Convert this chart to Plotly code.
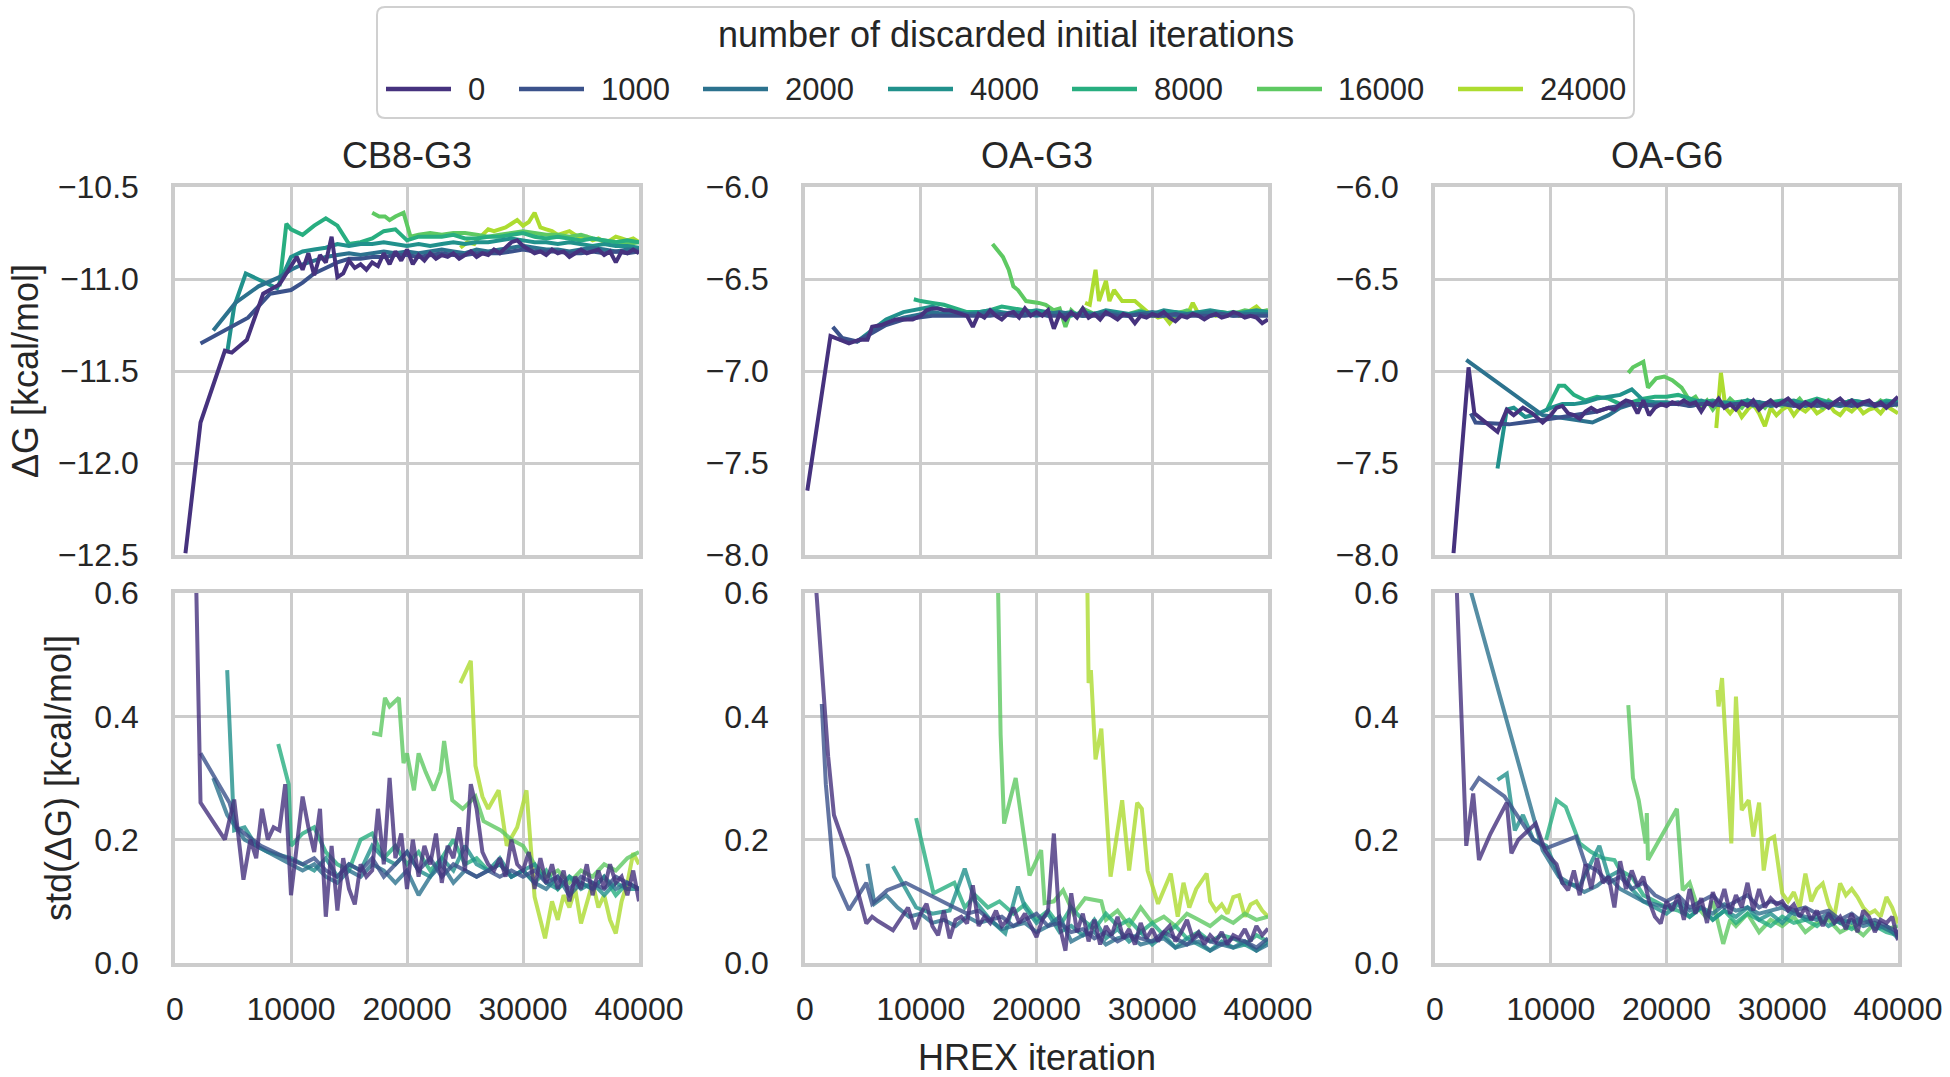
import plotly.graph_objects as go

# ---------------- data ----------------
DISCARDS = [0, 1000, 2000, 4000, 8000, 16000, 24000]
COLORS = ['#46327e', '#3b528b', '#2c728e', '#21918c', '#28ae80', '#5ec962', '#addc30']
SYSTEMS = ['CB8-G3', 'OA-G3', 'OA-G6']
X_TICKS = [0, 10000, 20000, 30000, 40000]
DG_TICKS_CB8 = [-12.5, -12.0, -11.5, -11.0, -10.5]
DG_TICKS_OA = [-8.0, -7.5, -7.0, -6.5, -6.0]
STD_TICKS = [0.0, 0.2, 0.4, 0.6]

# iteration checkpoints (tails of each series take the last N of these)
G500 = [500, 1000, 1500, 2000, 2500, 3000, 3500, 4000, 4500, 5000,
        5500, 6000, 6500, 7000, 7500, 8000, 8500, 9000, 9500, 10000,
        10500, 11000, 11500, 12000, 12500, 13000, 13500, 14000, 14500, 15000,
        15500, 16000, 16500, 17000, 17500, 18000, 18500, 19000, 19500, 20000,
        20500, 21000, 21500, 22000, 22500, 23000, 23500, 24000, 24500, 25000,
        25500, 26000, 26500, 27000, 27500, 28000, 28500, 29000, 29500, 30000,
        30500, 31000, 31500, 32000, 32500, 33000, 33500, 34000, 34500, 35000,
        35500, 36000, 36500, 37000, 37500, 38000, 38500, 39000, 39500, 40000]
G1000 = [1000, 2000, 3000, 4000, 5000, 6000, 7000, 8000, 9000, 10000,
         11000, 12000, 13000, 14000, 15000, 16000, 17000, 18000, 19000, 20000,
         21000, 22000, 23000, 24000, 25000, 26000, 27000, 28000, 29000, 30000,
         31000, 32000, 33000, 34000, 35000, 36000, 37000, 38000, 39000, 40000]

# each series: (head iterations, head values, tail checkpoint step, tail values)
CB8_DG = {
    0: ([900, 2200, 4300, 4900, 6200, 7600, 9000],
        [-12.49, -11.78, -11.39, -11.40, -11.33, -11.08, -11.03], 500,
        [-10.93, -10.88, -10.95, -10.86, -10.98, -10.87, -10.91, -10.77, -10.99, -10.97,
         -10.90, -10.94, -10.92, -10.95, -10.91, -10.93, -10.86, -10.92, -10.85, -10.90,
         -10.84, -10.92, -10.87, -10.90, -10.86, -10.89, -10.87, -10.88, -10.86, -10.89,
         -10.87, -10.85, -10.88, -10.86, -10.87, -10.84, -10.86, -10.83, -10.80, -10.79,
         -10.82, -10.84, -10.86, -10.85, -10.87, -10.84, -10.86, -10.85, -10.88, -10.86,
         -10.84, -10.86, -10.85, -10.84, -10.87, -10.85, -10.91, -10.85, -10.86, -10.84,
         -10.86]),
    1000: ([2200, 6300, 8200], [-11.35, -11.21, -11.08], 1000,
           [-11.06, -11.02, -10.97, -10.94, -10.91, -10.89, -10.89, -10.88, -10.88, -10.87,
            -10.87, -10.88, -10.87, -10.86, -10.87, -10.87, -10.86, -10.86, -10.86, -10.85,
            -10.84, -10.85, -10.85, -10.85, -10.86, -10.86, -10.85, -10.86, -10.85, -10.86,
            -10.85]),
    2000: ([3300, 5200, 7200, 9000], [-11.28, -11.13, -11.04, -10.99], 1000,
           [-10.95, -10.92, -10.90, -10.88, -10.87, -10.86, -10.87, -10.86, -10.85, -10.86,
            -10.85, -10.86, -10.85, -10.84, -10.85, -10.86, -10.84, -10.85, -10.84, -10.83,
            -10.82, -10.83, -10.84, -10.84, -10.85, -10.84, -10.83, -10.84, -10.85, -10.84,
            -10.84]),
    4000: ([4500, 5100, 6100, 7400, 8800], [-11.40, -11.15, -10.97, -11.01, -11.05], 1000,
           [-10.88, -10.85, -10.84, -10.83, -10.81, -10.82, -10.81, -10.81, -10.80, -10.81,
            -10.82, -10.81, -10.82, -10.81, -10.80, -10.81, -10.80, -10.80, -10.79, -10.78,
            -10.79, -10.80, -10.80, -10.81, -10.80, -10.81, -10.82, -10.81, -10.82, -10.82,
            -10.83]),
    8000: ([9000, 9600], [-11.04, -10.70], 1000,
           [-10.73, -10.76, -10.71, -10.67, -10.71, -10.81, -10.80, -10.78, -10.74, -10.73,
            -10.79, -10.77, -10.77, -10.77, -10.76, -10.78, -10.78, -10.77, -10.77, -10.76,
            -10.75, -10.77, -10.78, -10.77, -10.78, -10.79, -10.78, -10.79, -10.80, -10.79,
            -10.80]),
    16000: ([17000, 17600, 18100, 18500, 19000, 19700, 20300, 20800],
            [-10.64, -10.66, -10.66, -10.68, -10.66, -10.64, -10.77, -10.76], 1000,
            [-10.76, -10.75, -10.76, -10.75, -10.75, -10.76, -10.77, -10.76, -10.75, -10.74,
             -10.75, -10.76, -10.76, -10.77, -10.76, -10.78, -10.79, -10.80, -10.81, -10.80]),
    24000: ([24600, 25200, 25800], [-10.83, -10.80, -10.81], 500,
            [-10.79, -10.76, -10.73, -10.74, -10.73, -10.72, -10.70, -10.68, -10.71, -10.69,
             -10.64, -10.72, -10.73, -10.74, -10.76, -10.75, -10.74, -10.76, -10.78, -10.77,
             -10.79, -10.78, -10.80, -10.79, -10.77, -10.78, -10.79, -10.78, -10.80]),
}

OAG3_DG = {
    0: ([200, 2200, 3000, 3800, 4700, 5400, 5800, 6600, 7800, 9300],
        [-7.65, -6.81, -6.83, -6.85, -6.83, -6.83, -6.76, -6.75, -6.72, -6.72], 500,
        [-6.70, -6.67, -6.66, -6.66, -6.67, -6.67, -6.68, -6.69, -6.70, -6.76,
         -6.69, -6.71, -6.67, -6.70, -6.72, -6.69, -6.68, -6.71, -6.66, -6.70,
         -6.68, -6.70, -6.67, -6.77, -6.69, -6.72, -6.68, -6.71, -6.66, -6.71,
         -6.69, -6.72, -6.68, -6.70, -6.72, -6.69, -6.70, -6.74, -6.70, -6.71,
         -6.69, -6.70, -6.68, -6.71, -6.73, -6.70, -6.71, -6.69, -6.70, -6.72,
         -6.70, -6.69, -6.71, -6.70, -6.68, -6.69, -6.71, -6.70, -6.71, -6.74,
         -6.72]),
    1000: ([2400, 3200, 4500, 5600, 7000, 8500], [-6.76, -6.82, -6.84, -6.80, -6.75, -6.72], 1000,
           [-6.71, -6.70, -6.70, -6.70, -6.70, -6.70, -6.70, -6.69, -6.70, -6.70,
            -6.69, -6.70, -6.70, -6.69, -6.70, -6.70, -6.69, -6.70, -6.70, -6.69,
            -6.70, -6.70, -6.69, -6.70, -6.70, -6.70, -6.69, -6.70, -6.70, -6.70,
            -6.70]),
    2000: ([3000, 4500, 5500, 7000, 8500], [-6.83, -6.84, -6.80, -6.74, -6.71], 1000,
           [-6.69, -6.68, -6.69, -6.68, -6.69, -6.69, -6.68, -6.69, -6.68, -6.69,
            -6.70, -6.69, -6.68, -6.69, -6.70, -6.69, -6.68, -6.69, -6.70, -6.69,
            -6.68, -6.69, -6.70, -6.69, -6.69, -6.68, -6.69, -6.70, -6.69, -6.69,
            -6.69]),
    4000: ([4500, 5500, 7000, 8500], [-6.84, -6.79, -6.72, -6.68], 1000,
           [-6.66, -6.65, -6.67, -6.68, -6.69, -6.68, -6.67, -6.68, -6.69, -6.68,
            -6.67, -6.68, -6.69, -6.70, -6.68, -6.69, -6.67, -6.68, -6.69, -6.68,
            -6.69, -6.67, -6.68, -6.69, -6.68, -6.67, -6.68, -6.69, -6.68, -6.67,
            -6.68]),
    8000: ([9400], [-6.61], 1000,
           [-6.62, -6.63, -6.64, -6.66, -6.68, -6.68, -6.67, -6.65, -6.66, -6.67,
            -6.68, -6.70, -6.69, -6.68, -6.70, -6.69, -6.68, -6.69, -6.70, -6.68,
            -6.69, -6.70, -6.68, -6.69, -6.68, -6.70, -6.69, -6.68, -6.69, -6.68,
            -6.69]),
    16000: ([16200, 17100, 17600, 18000, 18400, 19100, 20200, 20800, 21500, 22000, 22500, 23000, 23500],
            [-6.31, -6.38, -6.45, -6.54, -6.56, -6.62, -6.63, -6.64, -6.67, -6.66, -6.76, -6.67, -6.70], 1000,
            [-6.66, -6.69, -6.68, -6.70, -6.69, -6.67, -6.70, -6.68, -6.69, -6.67,
             -6.70, -6.69, -6.68, -6.69, -6.67, -6.68, -6.67]),
    24000: ([24200, 24600, 25100, 25400, 26000, 26300, 26700, 27400, 28500, 29600],
            [-6.63, -6.64, -6.45, -6.62, -6.51, -6.62, -6.56, -6.62, -6.62, -6.68], 500,
            [-6.69, -6.71, -6.70, -6.74, -6.70, -6.68, -6.70, -6.63, -6.69, -6.70,
             -6.68, -6.70, -6.69, -6.70, -6.68, -6.70, -6.69, -6.67, -6.65, -6.68,
             -6.67]),
}

OAG6_DG = {
    0: ([1600, 2900, 3400, 5400, 6200, 6800, 7600, 8400, 9300],
        [-7.99, -6.98, -7.23, -7.33, -7.21, -7.24, -7.20, -7.23, -7.28], 500,
        [-7.24, -7.20, -7.19, -7.23, -7.24, -7.26, -7.22, -7.20, -7.22, -7.21,
         -7.20, -7.21, -7.18, -7.16, -7.17, -7.23, -7.16, -7.24, -7.20, -7.18,
         -7.19, -7.17, -7.18, -7.16, -7.18, -7.17, -7.22, -7.17, -7.19, -7.15,
         -7.20, -7.18, -7.21, -7.17, -7.19, -7.16, -7.21, -7.18, -7.16, -7.19,
         -7.17, -7.15, -7.18, -7.20, -7.17, -7.19, -7.16, -7.18, -7.20, -7.17,
         -7.15, -7.18, -7.16, -7.19, -7.17, -7.16, -7.19, -7.17, -7.20, -7.17,
         -7.14]),
    1000: ([3100, 3500, 6400, 9300], [-7.23, -7.28, -7.29, -7.27], 1000,
           [-7.26, -7.25, -7.24, -7.23, -7.22, -7.20, -7.19, -7.18, -7.18, -7.19,
            -7.18, -7.18, -7.19, -7.18, -7.18, -7.19, -7.18, -7.18, -7.19, -7.18,
            -7.18, -7.19, -7.18, -7.19, -7.18, -7.18, -7.19, -7.18, -7.18, -7.19,
            -7.18]),
    2000: ([2700, 9300, 11500, 13600], [-6.94, -7.24, -7.26, -7.28], 1000,
           [-7.24, -7.20, -7.18, -7.19, -7.18, -7.18, -7.17, -7.19, -7.18, -7.17,
            -7.19, -7.18, -7.18, -7.17, -7.19, -7.18, -7.18, -7.19, -7.17, -7.18,
            -7.19, -7.18, -7.18, -7.19, -7.18, -7.18]),
    4000: ([5400, 6200, 6800, 7800, 9000], [-7.53, -7.21, -7.20, -7.25, -7.23], 1000,
           [-7.20, -7.18, -7.18, -7.17, -7.15, -7.14, -7.13, -7.10, -7.16, -7.17,
            -7.17, -7.18, -7.17, -7.16, -7.18, -7.17, -7.18, -7.16, -7.17, -7.18,
            -7.17, -7.16, -7.18, -7.17, -7.17, -7.18, -7.16, -7.17, -7.18, -7.17,
            -7.17]),
    8000: ([9600, 10700, 11200], [-7.22, -7.08, -7.08], 1000,
           [-7.13, -7.16, -7.14, -7.15, -7.18, -7.17, -7.15, -7.14, -7.14, -7.13,
            -7.15, -7.17, -7.16, -7.18, -7.17, -7.16, -7.18, -7.17, -7.16, -7.18,
            -7.17, -7.15, -7.17, -7.18, -7.16, -7.17, -7.18, -7.16, -7.17]),
    16000: ([16700, 17100, 18000, 18400, 19100, 19800, 20500, 21300, 22000, 22500],
            [-7.01, -6.98, -6.95, -7.09, -7.04, -7.03, -7.05, -7.09, -7.16, -7.14], 500,
            [-7.19, -7.16, -7.21, -7.17, -7.19, -7.15, -7.18, -7.20, -7.16, -7.19,
             -7.17, -7.20, -7.16, -7.18, -7.19, -7.16, -7.18, -7.15, -7.19, -7.17,
             -7.18, -7.20, -7.16, -7.18, -7.19, -7.17, -7.16, -7.19, -7.18, -7.17,
             -7.19, -7.16, -7.18, -7.17, -7.19]),
    24000: ([24300, 24700, 25100], [-7.31, -7.01, -7.20], 500,
            [-7.23, -7.19, -7.25, -7.21, -7.18, -7.23, -7.30, -7.20, -7.24, -7.21,
             -7.19, -7.24, -7.20, -7.22, -7.19, -7.23, -7.21, -7.18, -7.22, -7.24,
             -7.20, -7.22, -7.19, -7.23, -7.21, -7.20, -7.23, -7.19, -7.21, -7.23]),
}

CB8_STD = {
    0: ([1800, 2200, 4300, 5100, 5900], [0.64, 0.26, 0.20, 0.265, 0.135], 500,
        [0.20, 0.17, 0.25, 0.20, 0.22, 0.215, 0.29, 0.11,
         0.19, 0.27, 0.22, 0.18, 0.25, 0.075, 0.19, 0.085, 0.17, 0.12,
         0.095, 0.16, 0.14, 0.15, 0.25, 0.16, 0.30, 0.17, 0.21, 0.12,
         0.20, 0.14, 0.19, 0.16, 0.21, 0.13, 0.19, 0.17, 0.22, 0.15,
         0.29, 0.25, 0.18, 0.16, 0.15, 0.17, 0.14, 0.20, 0.16, 0.15,
         0.18, 0.12, 0.17, 0.13, 0.16, 0.12, 0.15, 0.10, 0.14, 0.12,
         0.16, 0.11, 0.15, 0.12, 0.16, 0.13, 0.14, 0.11, 0.15, 0.10]),
    1000: ([2200, 4700, 5300, 7400, 10000], [0.34, 0.26, 0.22, 0.19, 0.167], 1000,
           [0.16, 0.17, 0.15, 0.14, 0.16, 0.15, 0.17, 0.14, 0.16, 0.18,
            0.15, 0.17, 0.14, 0.16, 0.15, 0.14, 0.15, 0.14, 0.15, 0.14,
            0.15, 0.13, 0.14, 0.12, 0.14, 0.13, 0.12, 0.14, 0.13, 0.12]),
    2000: ([3300, 4500, 6000, 8000], [0.30, 0.24, 0.20, 0.18], 1000,
           [0.17, 0.16, 0.15, 0.16, 0.14, 0.13, 0.15, 0.14, 0.16, 0.15,
            0.13, 0.15, 0.11, 0.14, 0.16, 0.13, 0.15, 0.14, 0.15, 0.16,
            0.14, 0.15, 0.13, 0.12, 0.14, 0.11, 0.13, 0.12, 0.14, 0.12,
            0.13, 0.12]),
    4000: ([4500, 5100], [0.475, 0.215], 1000,
           [0.22, 0.19, 0.18, 0.175, 0.17, 0.16, 0.15, 0.17, 0.14, 0.16,
            0.15, 0.19, 0.17, 0.16, 0.18, 0.15, 0.14, 0.17, 0.15, 0.19,
            0.16, 0.15, 0.17, 0.14, 0.15, 0.16, 0.13, 0.12, 0.14, 0.12,
            0.13, 0.11, 0.13, 0.12, 0.12]),
    8000: ([8900, 9800], [0.355, 0.29], 1000,
           [0.19, 0.21, 0.22, 0.18, 0.16, 0.15, 0.20, 0.21, 0.17, 0.19,
            0.16, 0.18, 0.15, 0.17, 0.20, 0.16, 0.17, 0.15, 0.16, 0.14,
            0.15, 0.13, 0.15, 0.12, 0.14, 0.13, 0.12, 0.14, 0.11, 0.13,
            0.12]),
    16000: ([17000, 17700, 18100, 18500, 19300, 19700, 20000, 20600, 21000, 21600, 22300,
             22900, 23200, 23900, 24800, 25900, 26600, 28100],
            [0.373, 0.37, 0.43, 0.416, 0.43, 0.324, 0.34, 0.28, 0.34, 0.31, 0.28,
             0.31, 0.36, 0.264, 0.25, 0.27, 0.23, 0.215], 1000,
            [0.20, 0.19, 0.16, 0.14, 0.15, 0.13, 0.15, 0.14, 0.16, 0.15, 0.17, 0.18]),
    24000: ([24600, 25500, 25900, 26500, 27000, 27900, 28600, 29500, 30300, 31000, 31900],
            [0.454, 0.49, 0.32, 0.27, 0.25, 0.28, 0.19, 0.22, 0.28, 0.107, 0.04], 500,
            [0.10, 0.07, 0.11, 0.09, 0.12, 0.064, 0.10, 0.13, 0.09, 0.11,
             0.07, 0.048, 0.10, 0.13, 0.178, 0.16]),
}

OAG3_STD = {
    0: ([800, 2000, 2500, 3800, 5300, 5800, 6300, 7600, 8900],
        [0.65, 0.335, 0.24, 0.17, 0.064, 0.075, 0.068, 0.053, 0.09], 500,
        [0.055, 0.08,
         0.096, 0.06, 0.045, 0.085, 0.04, 0.07, 0.075, 0.064, 0.126, 0.06,
         0.075, 0.065, 0.085, 0.06, 0.07, 0.09, 0.065, 0.08, 0.06, 0.042,
         0.07, 0.085, 0.21, 0.06, 0.02, 0.113, 0.05, 0.08, 0.035, 0.07,
         0.03, 0.06, 0.045, 0.075, 0.04, 0.055, 0.03, 0.065, 0.04, 0.055,
         0.035, 0.05, 0.06, 0.035, 0.05, 0.07, 0.04, 0.05, 0.03, 0.045,
         0.035, 0.05, 0.03, 0.045, 0.04, 0.055, 0.035, 0.06, 0.045, 0.056]),
    1000: ([1450, 1800, 2500, 3800, 5300, 5800, 7100, 8700, 12900],
           [0.42, 0.29, 0.14, 0.086, 0.13, 0.096, 0.118, 0.13, 0.09], 1000,
           [0.08, 0.085, 0.07, 0.075, 0.06, 0.07, 0.08, 0.06, 0.065, 0.05,
            0.055, 0.04, 0.05, 0.035, 0.045, 0.04, 0.035, 0.05, 0.04, 0.03,
            0.045, 0.035, 0.03, 0.04, 0.035, 0.025, 0.04]),
    2000: ([5400, 6000, 7000, 8000], [0.161, 0.096, 0.11, 0.09], 1000,
           [0.075, 0.08, 0.065, 0.07, 0.06, 0.075, 0.065, 0.07, 0.055, 0.06,
            0.065, 0.05, 0.06, 0.075, 0.035, 0.045, 0.05, 0.03, 0.04, 0.045,
            0.03, 0.035, 0.04, 0.025, 0.03, 0.035, 0.02, 0.03, 0.025, 0.035,
            0.02, 0.03]),
    4000: ([7600, 9600, 11000, 12500, 13800, 14700, 16000, 17300, 18400],
           [0.157, 0.09, 0.08, 0.085, 0.153, 0.10, 0.07, 0.048, 0.124], 1000,
           [0.09, 0.065, 0.08, 0.05, 0.06, 0.045, 0.07, 0.04, 0.055, 0.035,
            0.05, 0.03, 0.045, 0.025, 0.04, 0.03, 0.02, 0.035, 0.025, 0.03,
            0.02, 0.035]),
    8000: ([9600, 11100, 12900, 13800, 14700, 15800, 16800],
           [0.235, 0.113, 0.13, 0.09, 0.11, 0.09, 0.10], 1000,
           [0.08, 0.095, 0.07, 0.085, 0.06, 0.09, 0.07, 0.055, 0.08, 0.06,
            0.07, 0.05, 0.065, 0.045, 0.06, 0.04, 0.05, 0.035, 0.045, 0.04,
            0.03, 0.045, 0.035]),
    16000: ([16500, 16900, 17200, 18200, 19400, 20400, 20700, 21500, 22300, 23200, 24200, 25600],
            [0.80, 0.37, 0.226, 0.30, 0.142, 0.183, 0.097, 0.10, 0.118, 0.08, 0.105, 0.10], 1000,
            [0.07, 0.085, 0.06, 0.09, 0.065, 0.075, 0.06, 0.08, 0.07, 0.06,
             0.075, 0.065, 0.08, 0.07, 0.075]),
    24000: ([24300, 24500, 24700, 25100, 25600, 26000, 26400, 27400, 28000, 28700, 29100, 29600,
             30500, 31600, 32200, 32700, 33200, 33800, 34700],
            [0.75, 0.454, 0.475, 0.33, 0.38, 0.264, 0.14, 0.264, 0.15, 0.26, 0.25, 0.15,
             0.096, 0.145, 0.075, 0.13, 0.09, 0.12, 0.145], 500,
            [0.10, 0.085, 0.095, 0.08, 0.107, 0.11, 0.075, 0.095, 0.10, 0.085, 0.075]),
}

OAG6_STD = {
    0: ([1600, 2700, 3300, 3800, 4800, 6200, 6600, 7200, 8700, 9500],
        [0.75, 0.19, 0.275, 0.167, 0.21, 0.26, 0.178, 0.20, 0.226, 0.183], 500,
        [0.17, 0.16, 0.13, 0.118, 0.15, 0.11, 0.16, 0.12, 0.17, 0.13,
         0.14, 0.09, 0.165, 0.12, 0.15, 0.125, 0.14, 0.10, 0.075, 0.064,
         0.10, 0.085, 0.11, 0.07, 0.12, 0.08, 0.105, 0.065, 0.115, 0.09,
         0.12, 0.08, 0.11, 0.09, 0.13, 0.085, 0.12, 0.09, 0.105, 0.095,
         0.10, 0.085, 0.095, 0.075, 0.09, 0.07, 0.085, 0.06, 0.08, 0.065,
         0.075, 0.055, 0.08, 0.05, 0.085, 0.075, 0.05, 0.07, 0.065, 0.075,
         0.037]),
    1000: ([3100, 3800, 6000, 7300, 8500, 9600, 12200, 13000],
           [0.28, 0.30, 0.27, 0.235, 0.20, 0.186, 0.205, 0.16], 1000,
           [0.15, 0.13, 0.14, 0.12, 0.13, 0.11, 0.10, 0.11, 0.09, 0.10,
            0.11, 0.09, 0.10, 0.11, 0.09, 0.10, 0.095, 0.085, 0.09, 0.08,
            0.085, 0.07, 0.08, 0.065, 0.07, 0.06, 0.05]),
    2000: ([2400, 9300, 10700, 12900, 14000], [0.65, 0.183, 0.14, 0.115, 0.125], 1000,
           [0.14, 0.12, 0.11, 0.10, 0.095, 0.09, 0.10, 0.085, 0.09, 0.08,
            0.095, 0.085, 0.09, 0.08, 0.085, 0.09, 0.08, 0.075, 0.07, 0.08,
            0.065, 0.07, 0.06, 0.065, 0.055, 0.045]),
    4000: ([5400, 6200, 6900, 7600, 8500, 9600, 11000, 12500, 14200],
           [0.297, 0.307, 0.215, 0.24, 0.20, 0.19, 0.13, 0.125, 0.19], 1000,
           [0.14, 0.15, 0.12, 0.10, 0.09, 0.08, 0.095, 0.075, 0.09, 0.07,
            0.085, 0.075, 0.09, 0.07, 0.08, 0.065, 0.085, 0.07, 0.075, 0.06,
            0.07, 0.065, 0.075, 0.055, 0.06, 0.04]),
    8000: ([9600, 10500, 11300, 12500, 13500, 14500, 15500],
           [0.20, 0.264, 0.253, 0.194, 0.18, 0.17, 0.167], 1000,
           [0.15, 0.14, 0.11, 0.10, 0.09, 0.085, 0.075, 0.09, 0.07, 0.085,
            0.065, 0.08, 0.07, 0.06, 0.075, 0.065, 0.07, 0.06, 0.075, 0.065,
            0.055, 0.07, 0.06, 0.05, 0.045]),
    16000: ([16700, 17100, 17600, 18200, 18300, 18400, 20900, 21400, 22000, 22700, 23400, 24000,
             24900, 25500],
            [0.418, 0.30, 0.264, 0.194, 0.243, 0.167, 0.25, 0.118, 0.13, 0.09, 0.075, 0.10,
             0.031, 0.07], 1000,
            [0.06, 0.08, 0.05, 0.07, 0.06, 0.075, 0.05, 0.065, 0.07, 0.05,
             0.06, 0.045, 0.065, 0.055, 0.06]),
    24000: ([24400, 24500, 24800, 25600, 26000, 26500, 27100, 27500, 28000, 28400, 28800, 29300, 30000],
            [0.443, 0.416, 0.462, 0.194, 0.432, 0.248, 0.264, 0.205, 0.26, 0.15, 0.20, 0.205, 0.113], 500,
            [0.10, 0.115, 0.09, 0.145, 0.10, 0.12, 0.129, 0.095, 0.075, 0.129,
             0.11, 0.12, 0.107, 0.09, 0.08, 0.085, 0.075, 0.107, 0.09, 0.064]),
}

# ---------------- layout geometry (pixels) ----------------
W, H = 1950, 1077
COL_PX = [(175, 639), (805, 1268), (1435, 1898)]
ROW_PX = [(187, 555), (593, 963)]
FONT = 'Liberation Sans, Arial, Helvetica, sans-serif'
TXT = '#262626'
GRID = '#cccccc'


def px_x(p):
    return p / W


def px_y(p):
    return 1 - p / H


def series_xy(spec):
    hx, hy, step, ty = spec
    grid = G500 if step == 500 else G1000
    tx = grid[len(grid) - len(ty):]
    return list(hx) + list(tx), list(hy) + list(ty)


PANELS = [
    (0, 0, CB8_DG, [-12.5, -10.5], DG_TICKS_CB8),
    (0, 1, OAG3_DG, [-8.0, -6.0], DG_TICKS_OA),
    (0, 2, OAG6_DG, [-8.0, -6.0], DG_TICKS_OA),
    (1, 0, CB8_STD, [0.0, 0.6], STD_TICKS),
    (1, 1, OAG3_STD, [0.0, 0.6], STD_TICKS),
    (1, 2, OAG6_STD, [0.0, 0.6], STD_TICKS),
]

fig = go.Figure()
layout = dict(
    width=W, height=H, autosize=False,
    margin=dict(l=0, r=0, t=0, b=0, pad=0),
    paper_bgcolor='white', plot_bgcolor='white',
    showlegend=False,
    font=dict(family=FONT, color=TXT, size=32),
    hovermode=False,
)

for r, c, data, yr, yticks in PANELS:
    idx = r * 3 + c + 1
    sfx = '' if idx == 1 else str(idx)
    for d, col in reversed(list(zip(DISCARDS, COLORS))):
        xs, ys = series_xy(data[d])
        fig.add_trace(go.Scatter(
            x=xs, y=ys, mode='lines',
            line=dict(color=col, width=4),
            opacity=1.0 if r == 0 else 0.8,
            xaxis='x' + sfx, yaxis='y' + sfx,
            hoverinfo='skip', showlegend=False,
        ))
    x0, x1 = COL_PX[c]
    y0, y1 = ROW_PX[r]
    layout['xaxis' + sfx] = dict(
        domain=[px_x(x0), px_x(x1)], anchor='y' + sfx,
        range=[0, 40000], tickvals=X_TICKS, tickformat='d',
        showticklabels=(r == 1), ticks='', ticklabelstandoff=15,
        showgrid=True, gridcolor=GRID, gridwidth=2.5,
        showline=True, mirror=True, linecolor=GRID, linewidth=3.5,
        zeroline=False, automargin=False,
        tickfont=dict(size=32, color=TXT, family=FONT),
    )
    layout['yaxis' + sfx] = dict(
        domain=[px_y(y1), px_y(y0)], anchor='x' + sfx,
        range=yr, tickvals=yticks, tickformat='.1f',
        ticks='', ticklabelstandoff=26,
        showgrid=True, gridcolor=GRID, gridwidth=2.5,
        showline=True, mirror=True, linecolor=GRID, linewidth=3.5,
        zeroline=False, automargin=False,
        tickfont=dict(size=32, color=TXT, family=FONT),
    )

annotations = []
for c, name in enumerate(SYSTEMS):
    annotations.append(dict(
        text=name, xref='paper', yref='paper',
        x=px_x((COL_PX[c][0] + COL_PX[c][1]) / 2), y=px_y(155),
        xanchor='center', yanchor='middle', showarrow=False,
        font=dict(size=36, color=TXT, family=FONT)))
annotations.append(dict(
    text='ΔG [kcal/mol]', xref='paper', yref='paper',
    x=px_x(25), y=px_y(371), textangle=-90,
    xanchor='center', yanchor='middle', showarrow=False,
    font=dict(size=36, color=TXT, family=FONT)))
annotations.append(dict(
    text='std(ΔG) [kcal/mol]', xref='paper', yref='paper',
    x=px_x(58), y=px_y(778), textangle=-90,
    xanchor='center', yanchor='middle', showarrow=False,
    font=dict(size=36, color=TXT, family=FONT)))
annotations.append(dict(
    text='HREX iteration', xref='paper', yref='paper',
    x=px_x(1037), y=px_y(1057),
    xanchor='center', yanchor='middle', showarrow=False,
    font=dict(size=36, color=TXT, family=FONT)))

# ---------------- custom legend ----------------
LEG_BOX = (377, 7, 1634, 118)
LEG_LINE_X = [386, 519, 703, 888, 1072, 1257, 1458]
LEG_TEXT_X = [466, 599, 783, 968, 1152, 1336, 1538]
LEG_Y = 89
shapes = []
bx0, by0, bx1, by1 = LEG_BOX
rr = 8
X = lambda p: f'{px_x(p):.6f}'
Y = lambda p: f'{px_y(p):.6f}'
path = (f'M {X(bx0 + rr)},{Y(by0)} L {X(bx1 - rr)},{Y(by0)} Q {X(bx1)},{Y(by0)} {X(bx1)},{Y(by0 + rr)} '
        f'L {X(bx1)},{Y(by1 - rr)} Q {X(bx1)},{Y(by1)} {X(bx1 - rr)},{Y(by1)} '
        f'L {X(bx0 + rr)},{Y(by1)} Q {X(bx0)},{Y(by1)} {X(bx0)},{Y(by1 - rr)} '
        f'L {X(bx0)},{Y(by0 + rr)} Q {X(bx0)},{Y(by0)} {X(bx0 + rr)},{Y(by0)} Z')
shapes.append(dict(type='path', path=path, xref='paper', yref='paper',
                   line=dict(color='#d0d0d0', width=2), fillcolor='white', layer='above'))
annotations.append(dict(
    text='number of discarded initial iterations', xref='paper', yref='paper',
    x=px_x(1006), y=px_y(34), xanchor='center', yanchor='middle', showarrow=False,
    font=dict(size=36, color=TXT, family=FONT)))
for d, col, lx, tx in zip(DISCARDS, COLORS, LEG_LINE_X, LEG_TEXT_X):
    shapes.append(dict(type='line', xref='paper', yref='paper',
                       x0=px_x(lx), x1=px_x(lx + 65), y0=px_y(LEG_Y), y1=px_y(LEG_Y),
                       line=dict(color=col, width=4.5), layer='above'))
    annotations.append(dict(
        text=str(d), xref='paper', yref='paper',
        x=px_x(tx), y=px_y(LEG_Y), xanchor='left', yanchor='middle', showarrow=False,
        font=dict(size=31, color=TXT, family=FONT)))

layout['annotations'] = annotations
layout['shapes'] = shapes
fig.update_layout(**layout)

RESET_PAGE = ("document.documentElement.style.margin='0';"
              "document.documentElement.style.padding='0';"
              "document.documentElement.style.overflow='hidden';"
              "document.body.style.margin='0';"
              "document.body.style.padding='0';"
              "document.body.style.overflow='hidden';")
fig.write_html('out.html', config={'displayModeBar': False}, post_script=RESET_PAGE)
